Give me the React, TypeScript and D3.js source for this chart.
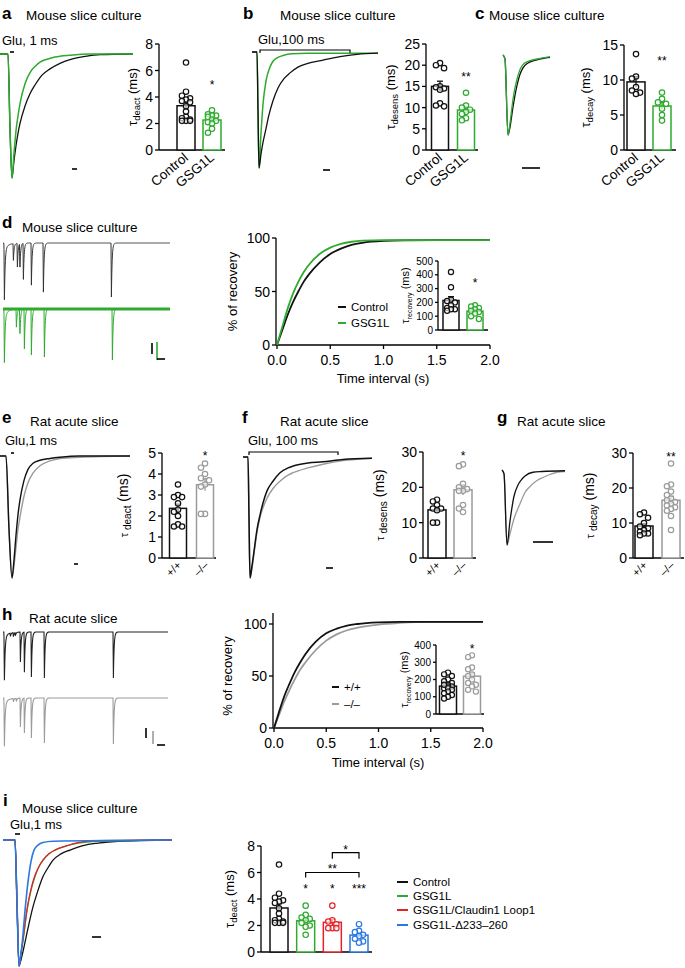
import React from 'react';
import * as d3 from 'd3';

const FONT = '"Liberation Sans", Arial, Helvetica, sans-serif';
const BLACK = '#111111';
const GREEN = '#2eab2e';
const GRAY = '#9b9b9b';
const RED = '#e2242a';
const BLUE = '#2a78e0';

// ---------- bar chart data ----------
const A_CATS = ['Control', 'GSG1L'];
const A_CONTROL = [6.6, 4.4, 4.1, 3.9, 3.8, 3.7, 3.6, 3.3, 2.9, 2.5, 2.4, 2.3, 2.2, 2.2, 2.2];
const A_GSG1L = [3.0, 2.7, 2.6, 2.6, 2.5, 2.3, 2.2, 2.1, 2.0, 1.6, 1.3];
const A_TICKS = [0, 2, 4, 6, 8];

const B_CONTROL = [20.5, 20.0, 19.3, 15.0, 14.8, 14.5, 14.2, 11.0, 10.5, 10.3];
const B_GSG1L = [13.5, 10.5, 10.0, 9.5, 9.0, 8.5, 7.5, 7.0];
const B_TICKS = [0, 5, 10, 15, 20, 25];

const C_CONTROL = [13.7, 10.5, 10.2, 9.0, 8.5, 8.2, 8.0];
const C_GSG1L = [8.2, 7.3, 6.8, 6.6, 5.9, 5.0, 4.2];
const C_TICKS = [0, 5, 10, 15];

const D_CONTROL = [420, 310, 220, 210, 200, 180, 160, 150, 150, 140];
const D_GSG1L = [180, 170, 160, 150, 140, 130, 120, 100, 80];
const D_INSET_TICKS = [0, 100, 200, 300, 400, 500];

const RAT_CATS = ['+/+', '–/–'];
const E_WT = [3.5, 3.0, 2.9, 2.9, 2.6, 2.3, 2.2, 2.0, 1.6, 1.5, 1.5];
const E_KO = [4.5, 4.3, 4.0, 3.8, 3.7, 3.5, 3.4, 2.1, 2.1];
const E_TICKS = [0, 1, 2, 3, 4, 5];

const F_WT = [16.5, 16.0, 15.0, 14.0, 14.0, 13.5, 10.0, 10.0];
const F_KO = [26.5, 26.0, 21.0, 20.0, 19.5, 19.0, 19.0, 15.0, 14.0, 13.0];
const F_TICKS = [0, 10, 20, 30];

const G_WT = [13, 12.5, 11.5, 10, 9, 8.5, 8, 7.5, 7, 7, 6.5];
const G_KO = [27, 21, 20.5, 19, 18, 17, 16.5, 16, 15.5, 15, 14.5, 14, 13.5, 12, 8];
const G_TICKS = [0, 10, 20, 30];

const H_WT = [240, 230, 220, 200, 190, 180, 170, 160, 160, 150, 150, 140, 130, 120, 110, 100, 90, 170];
const H_KO = [340, 330, 270, 260, 230, 220, 200, 180, 170, 160, 140, 130];
const H_INSET_TICKS = [0, 100, 200, 300, 400];

const I_CATS = ['Control', 'GSG1L', 'GSG1L/Claudin1 Loop1', 'GSG1L-Δ233–260'];
const I_CONTROL = [6.6, 4.4, 4.1, 3.9, 3.8, 3.7, 3.3, 2.9, 2.5, 2.4, 2.3, 2.2, 2.2, 2.2];
const I_GSG1L = [3.5, 2.8, 2.6, 2.5, 2.4, 2.2, 2.0, 1.9, 1.3];
const I_LOOP = [3.5, 2.4, 2.3, 2.1, 1.8, 1.8, 1.8];
const I_DELTA = [2.1, 1.6, 1.5, 1.3, 1.2, 1.0, 0.8, 0.7];
const I_TICKS = [0, 2, 4, 6, 8];

// ---------- recovery curves (time s, % recovery) ----------
const REC_T = [0, 0.05, 0.1, 0.15, 0.2, 0.25, 0.3, 0.4, 0.5, 0.6, 0.7, 0.8, 1.0, 1.2, 1.5, 2.0];
const D_REC_CONTROL = [0, 14, 28, 40, 50, 59, 66, 77, 85, 90, 93.5, 95.5, 97.3, 97.8, 98, 98];
const D_REC_GSG1L = [0, 17, 34, 48, 59, 68, 75, 85, 91, 94.5, 96.5, 97.5, 98, 98, 98, 98];
const H_REC_WT = [0, 16, 31, 43, 54, 63, 71, 83, 91, 95.5, 98.5, 100, 101.5, 102, 102, 102];
const H_REC_KO = [0, 13, 26, 37, 47, 56, 63, 75, 84, 90, 94, 96.5, 99.5, 101, 102, 102];
const REC_X_TICKS = [0, 0.5, 1.0, 1.5, 2.0];
const REC_Y_TICKS = [0, 50, 100];

// ---------- current traces (time, normalized inward current) ----------
type P = [number, number];
const TR_A_CONTROL: P[] = [[0, 0], [8, 0], [10, 0.6], [12, 1], [14, 0.86], [16, 0.74], [18, 0.64], [20, 0.56], [25, 0.42], [30, 0.32], [35, 0.25], [42, 0.17], [50, 0.12], [60, 0.075], [70, 0.045], [85, 0.02], [100, 0.005], [133, 0]];
const TR_A_GSG1L: P[] = [[0, 0], [8, 0], [10, 0.6], [12, 1], [14, 0.8], [16, 0.62], [18, 0.5], [20, 0.4], [25, 0.24], [30, 0.15], [35, 0.1], [40, 0.065], [48, 0.04], [55, 0.025], [70, 0.01], [90, 0], [133, 0]];
const TR_B_CONTROL: P[] = [[0, 0], [5, 0], [6, 0.5], [7, 1], [9, 0.88], [11, 0.78], [14, 0.66], [17, 0.54], [21, 0.42], [26, 0.31], [32, 0.23], [38, 0.18], [46, 0.13], [55, 0.1], [71, 0.07], [88, 0.04], [105, 0.02], [126, 0.01]];
const TR_B_GSG1L: P[] = [[0, 0], [5, 0], [6, 0.5], [7, 1], [9, 0.7], [11, 0.45], [14, 0.25], [18, 0.13], [21, 0.08], [25, 0.05], [31, 0.03], [40, 0.015], [55, 0.01], [126, 0.01]];
const TR_C_CONTROL: P[] = [[0, 0], [2, 0.05], [5, 1], [7, 0.9], [10, 0.65], [14, 0.38], [17, 0.24], [20, 0.16], [25, 0.1], [34, 0.06], [47, 0.03]];
const TR_C_GSG1L: P[] = [[0, 0], [2, 0.05], [5, 1], [7, 0.85], [10, 0.55], [14, 0.3], [17, 0.18], [20, 0.12], [25, 0.08], [34, 0.05], [47, 0.02]];
const TR_E_WT: P[] = [[0, 0], [6, 0], [9, 0.6], [12, 1], [14, 0.85], [16, 0.65], [18, 0.48], [20, 0.36], [24, 0.2], [28, 0.11], [33, 0.06], [40, 0.035], [50, 0.02], [60, 0.01], [80, 0], [130, 0]];
const TR_E_KO: P[] = [[0, 0], [6, 0], [9, 0.6], [12, 1], [14, 0.9], [16, 0.75], [18, 0.6], [20, 0.5], [24, 0.33], [28, 0.22], [33, 0.14], [40, 0.08], [50, 0.04], [60, 0.02], [80, 0.01], [130, 0]];
const TR_F_WT: P[] = [[0, 0], [5, 0], [6, 0.5], [7, 1], [9, 0.9], [11, 0.78], [14, 0.6], [17, 0.48], [20, 0.38], [24, 0.28], [30, 0.2], [37, 0.13], [45, 0.09], [50, 0.075], [65, 0.05], [80, 0.04], [100, 0.02], [129, 0.01]];
const TR_F_KO: P[] = [[0, 0], [5, 0], [6, 0.5], [7, 1], [9, 0.92], [11, 0.8], [14, 0.62], [17, 0.5], [20, 0.42], [24, 0.34], [30, 0.26], [37, 0.2], [45, 0.15], [50, 0.13], [65, 0.09], [80, 0.06], [100, 0.03], [129, 0.01]];
const TR_G_WT: P[] = [[0, 0], [2, 0.05], [5, 1], [8, 0.68], [12, 0.35], [16, 0.2], [20, 0.12], [23, 0.08], [31, 0.03], [40, 0.02], [63, 0.01]];
const TR_G_KO: P[] = [[0, 0], [2, 0.05], [5, 1], [8, 0.85], [12, 0.65], [18, 0.45], [23, 0.3], [28, 0.22], [35, 0.14], [41, 0.1], [48, 0.06], [55, 0.03], [63, 0.02]];
const TR_I_CONTROL: P[] = [[0, 0], [12, 0], [14, 0.5], [16, 1], [18, 0.95], [21, 0.85], [25, 0.7], [29, 0.56], [35, 0.4], [40, 0.29], [45, 0.22], [50, 0.16], [58, 0.11], [67, 0.08], [80, 0.045], [95, 0.025], [115, 0.01], [169, 0]];
const TR_I_GSG1L: P[] = [[0, 0], [12, 0], [14, 0.5], [16, 1], [18, 0.9], [20, 0.8], [24, 0.56], [28, 0.4], [32, 0.29], [36, 0.21], [40, 0.16], [46, 0.11], [52, 0.08], [62, 0.05], [75, 0.025], [95, 0.01], [169, 0]];
const TR_I_LOOP: P[] = [[0, 0], [12, 0], [14, 0.5], [16, 1], [18, 0.9], [20, 0.79], [24, 0.55], [28, 0.39], [32, 0.28], [36, 0.21], [40, 0.16], [46, 0.11], [52, 0.08], [62, 0.05], [75, 0.02], [95, 0.005], [169, 0]];
const TR_I_DELTA: P[] = [[0, 0], [12, 0], [14, 0.5], [16, 1], [18, 0.9], [20, 0.75], [22, 0.56], [24, 0.4], [26, 0.27], [28, 0.17], [31, 0.08], [35, 0.04], [40, 0.02], [50, 0.01], [169, 0]];

// ---------- paired-pulse event trains (time, relative amplitude) ----------
const D_CTRL_EVENTS = [1, 10, 14, 16.5, 20, 28, 40, 108];
const D_CTRL_AMPS = [1, 0.31, 0.44, 0.5, 0.67, 0.78, 0.91, 1];
const D_GSG_EVENTS = [1, 13, 16.5, 21, 28, 41, 109];
const D_GSG_AMPS = [1, 0.35, 0.55, 0.78, 0.9, 0.94, 1];
const H_WT_EVENTS = [1, 7, 10, 12, 17, 21, 28, 41, 110];
const H_WT_AMPS = [1, 0.07, 0.09, 0.07, 0.65, 0.87, 0.98, 1, 1];
const H_KO_EVENTS = [1, 10, 13, 17, 21, 28, 41, 110];
const H_KO_AMPS = [1, 0.07, 0.07, 0.63, 0.76, 0.87, 0.98, 1];

// ---------------------------------------------------------------
type Group = { name: string; values: number[]; color: string };

function beeswarm(values: number[], y: (v: number) => number, r: number, maxOff: number) {
  const order = values.map((v, i) => ({ v, i })).sort((a, b) => b.v - a.v);
  const placed: { x: number; y: number }[] = [];
  const out: number[] = new Array(values.length).fill(0);
  const step = r * 1.5;
  const cands: number[] = [0];
  for (let k = 1; k <= 8; k++) cands.push(-k * step, k * step);
  const ok = cands.filter((c) => Math.abs(c) <= maxOff);
  for (const o of order) {
    const py = y(o.v);
    let best = 0;
    let bestD = -1;
    let found = false;
    for (const c of ok) {
      const d = placed.length ? Math.min(...placed.map((p) => Math.hypot(p.x - c, p.y - py))) : 99;
      if (d >= 2 * r * 0.98) {
        best = c;
        found = true;
        break;
      }
      if (d > bestD) {
        bestD = d;
        best = c;
      }
    }
    if (!found && bestD < 0) best = 0;
    placed.push({ x: best, y: py });
    out[o.i] = best;
  }
  return out;
}

type Star = { g: number; text: string; value: number };
type Bracket = { from: number; to: number; value: number; text: string; drop: number };
type BarCfg = {
  axisX: number; y0: number; y1: number; max: number; ticks: number[];
  c0: number; c1: number; barW: number; endX: number; tickFont: number; tickLen?: number;
  titleX: number; titleSub: string; titleFont: number; subFont: number; unitFont?: number; spaced?: boolean;
  labelFont?: number; labelDx?: number; labelDy?: number; labelRot?: number; r: number; starFont?: number;
  stars?: Star[]; brackets?: Bracket[]; axisTop?: number;
};

function BarChart({ cfg, groups }: { cfg: BarCfg; groups: Group[] }) {
  const y = d3.scaleLinear().domain([0, cfg.max]).range([cfg.y0, cfg.y1]);
  const x = d3.scalePoint<string>().domain(groups.map((g) => g.name)).range([cfg.c0, cfg.c1]);
  const tl = cfg.tickLen ?? 4;
  const midY = (cfg.y0 + cfg.y1) / 2;
  const sf = cfg.starFont ?? 12;
  return (
    <g>
      <line x1={cfg.axisX} x2={cfg.axisX} y1={cfg.y0} y2={cfg.axisTop ?? cfg.y1} stroke="#000" strokeWidth={1.3} />
      <line x1={cfg.axisX} x2={cfg.endX} y1={cfg.y0} y2={cfg.y0} stroke="#000" strokeWidth={1.3} />
      {cfg.ticks.map((t) => (
        <g key={t}>
          <line x1={cfg.axisX - tl} x2={cfg.axisX} y1={y(t)} y2={y(t)} stroke="#000" strokeWidth={1.3} />
          <text x={cfg.axisX - tl - 2} y={y(t)} dy="0.36em" textAnchor="end" fontSize={cfg.tickFont}>{t}</text>
        </g>
      ))}
      <text transform={`translate(${cfg.titleX},${midY}) rotate(-90)`} textAnchor="middle" fontSize={cfg.titleFont}>
        τ<tspan fontSize={cfg.subFont} dy={3} dx={cfg.spaced ? 3 : 0}>{cfg.titleSub}</tspan>
        <tspan dy={-3} fontSize={cfg.unitFont ?? cfg.titleFont}>{' (ms)'}</tspan>
      </text>
      {groups.map((g) => {
        const cx = x(g.name) as number;
        const mean = d3.mean(g.values) as number;
        const sem = (d3.deviation(g.values) as number) / Math.sqrt(g.values.length);
        const offs = beeswarm(g.values, y, cfg.r, cfg.barW / 2 - cfg.r + 1);
        return (
          <g key={g.name}>
            <rect x={cx - cfg.barW / 2} y={y(mean)} width={cfg.barW} height={cfg.y0 - y(mean)} fill="#fff" stroke={g.color} strokeWidth={1.5} />
            <line x1={cx} x2={cx} y1={y(mean - sem)} y2={y(mean + sem)} stroke={g.color} strokeWidth={1.3} />
            <line x1={cx - 3} x2={cx + 3} y1={y(mean + sem)} y2={y(mean + sem)} stroke={g.color} strokeWidth={1.3} />
            {g.values.map((v, i) => (
              <circle key={i} cx={cx + offs[i]} cy={y(v)} r={cfg.r} fill="#fff" fillOpacity={0.6} stroke={g.color} strokeWidth={1.2} />
            ))}
            {cfg.labelFont ? (
              <text transform={`translate(${cx + (cfg.labelDx ?? 4)},${cfg.y0 + (cfg.labelDy ?? 9)}) rotate(${cfg.labelRot ?? -45})`} textAnchor="end" fontSize={cfg.labelFont}>{g.name}</text>
            ) : null}
          </g>
        );
      })}
      {(cfg.stars ?? []).map((s, i) => (
        <text key={'s' + i} x={x(groups[s.g].name) as number} y={y(s.value) + sf * 0.58} textAnchor="middle" fontSize={sf}>{s.text}</text>
      ))}
      {(cfg.brackets ?? []).map((b, i) => {
        const xa = x(groups[b.from].name) as number;
        const xb = x(groups[b.to].name) as number;
        const yy = y(b.value);
        return (
          <g key={'b' + i}>
            <path d={`M${xa},${yy + b.drop}V${yy}H${xb}V${yy + b.drop}`} fill="none" stroke="#000" strokeWidth={1.2} />
            <text x={(xa + xb) / 2} y={yy - 6 + sf * 0.58} textAnchor="middle" fontSize={sf}>{b.text}</text>
          </g>
        );
      })}
    </g>
  );
}

type TraceSeries = { data: P[]; color: string; width?: number };
function Traces({ x0, x1, tMax, base, peak, series }: { x0: number; x1: number; tMax: number; base: number; peak: number; series: TraceSeries[] }) {
  const xs = d3.scaleLinear().domain([0, tMax]).range([x0, x1]);
  const ys = d3.scaleLinear().domain([0, 1]).range([base, peak]);
  const line = d3.line<P>().x((d) => xs(d[0])).y((d) => ys(d[1])).curve(d3.curveMonotoneX);
  return (
    <g>
      {series.map((s, i) => (
        <path key={i} d={line(s.data) ?? ''} fill="none" stroke={s.color} strokeWidth={s.width ?? 1.3} strokeLinejoin="round" />
      ))}
    </g>
  );
}

// event train rendered as a sum of brief synaptic-like deflections
function trainPoints(events: number[], amps: number[], tEnd: number): P[] {
  const pts: P[] = [];
  for (let t = 0; t <= tEnd; t += 0.2) {
    let v = 0;
    events.forEach((te, i) => {
      const d = t - te;
      if (d < 0) return;
      const rise = d < 0.4 ? d / 0.4 : 1;
      const first = i === 0 ? 0.12 * Math.exp(-d / 4) : 0;
      v += amps[i] * (rise * Math.exp(-Math.max(0, d - 0.4) / 0.7) + first);
    });
    pts.push([t, Math.min(v, 1.05)]);
  }
  return pts;
}

function Train({ x0, x1, tEnd, base, depth, events, amps, color, width }: { x0: number; x1: number; tEnd: number; base: number; depth: number; events: number[]; amps: number[]; color: string; width?: number }) {
  const xs = d3.scaleLinear().domain([0, tEnd]).range([x0, x1]);
  const ys = d3.scaleLinear().domain([0, 1]).range([base, base + depth]);
  const line = d3.line<P>().x((d) => xs(d[0])).y((d) => ys(d[1]));
  return <path d={line(trainPoints(events, amps, tEnd)) ?? ''} fill="none" stroke={color} strokeWidth={width ?? 1} />;
}

type RecCfg = { ax: number; x0: number; x1: number; y0: number; y1: number; axisTop: number; labelY: number; titleY: number; titleX: number; ylabX: number };
function Recovery({ cfg, series }: { cfg: RecCfg; series: { values: number[]; color: string }[] }) {
  const x = d3.scaleLinear().domain([0, 2]).range([cfg.x0, cfg.x1]);
  const y = d3.scaleLinear().domain([0, 100]).range([cfg.y0, cfg.y1]);
  const line = d3.line<number>().x((_, i) => x(REC_T[i])).y((d) => y(d)).curve(d3.curveMonotoneX);
  return (
    <g>
      <line x1={cfg.ax} x2={cfg.ax} y1={cfg.y0} y2={cfg.axisTop} stroke="#000" strokeWidth={1.3} />
      <line x1={cfg.ax} x2={cfg.x1} y1={cfg.y0} y2={cfg.y0} stroke="#000" strokeWidth={1.3} />
      {REC_Y_TICKS.map((t) => (
        <g key={t}>
          <line x1={cfg.ax - 4} x2={cfg.ax} y1={y(t)} y2={y(t)} stroke="#000" strokeWidth={1.3} />
          <text x={cfg.ax - 6} y={y(t)} dy="0.36em" textAnchor="end" fontSize={14}>{t}</text>
        </g>
      ))}
      {REC_X_TICKS.map((t) => (
        <g key={t}>
          <line x1={x(t)} x2={x(t)} y1={cfg.y0} y2={cfg.y0 + 4} stroke="#000" strokeWidth={1.3} />
          <text x={x(t)} y={cfg.labelY} textAnchor="middle" fontSize={14}>{d3.format('.1f')(t)}</text>
        </g>
      ))}
      <text x={cfg.titleX} y={cfg.titleY} textAnchor="middle" fontSize={13}>Time interval (s)</text>
      <text transform={`translate(${cfg.ylabX},${(cfg.y0 + cfg.y1) / 2}) rotate(-90)`} textAnchor="middle" fontSize={13}>% of recovery</text>
      {series.map((s, i) => (
        <path key={i} d={line(s.values) ?? ''} fill="none" stroke={s.color} strokeWidth={1.8} />
      ))}
    </g>
  );
}

function Legend({ x, ys, items, font, len }: { x: number; ys: number[]; items: { name: string; color: string }[]; font: number; len: number }) {
  return (
    <g>
      {items.map((it, i) => (
        <g key={it.name}>
          <line x1={x} x2={x + len} y1={ys[i]} y2={ys[i]} stroke={it.color} strokeWidth={2} />
          <text x={x + len + 5} y={ys[i]} dy="0.36em" fontSize={font}>{it.name}</text>
        </g>
      ))}
    </g>
  );
}

const Bar = ({ x1, x2, y1, y2, c }: { x1: number; x2: number; y1: number; y2: number; c?: string }) => (
  <line x1={x1} x2={x2} y1={y1} y2={y2} stroke={c ?? '#000'} strokeWidth={1.6} />
);

export default function App() {
  const aGroups: Group[] = [
    { name: A_CATS[0], values: A_CONTROL, color: BLACK },
    { name: A_CATS[1], values: A_GSG1L, color: GREEN },
  ];
  const bGroups: Group[] = [
    { name: A_CATS[0], values: B_CONTROL, color: BLACK },
    { name: A_CATS[1], values: B_GSG1L, color: GREEN },
  ];
  const cGroups: Group[] = [
    { name: A_CATS[0], values: C_CONTROL, color: BLACK },
    { name: A_CATS[1], values: C_GSG1L, color: GREEN },
  ];
  const dGroups: Group[] = [
    { name: A_CATS[0], values: D_CONTROL, color: BLACK },
    { name: A_CATS[1], values: D_GSG1L, color: GREEN },
  ];
  const eGroups: Group[] = [
    { name: RAT_CATS[0], values: E_WT, color: BLACK },
    { name: RAT_CATS[1], values: E_KO, color: GRAY },
  ];
  const fGroups: Group[] = [
    { name: RAT_CATS[0], values: F_WT, color: BLACK },
    { name: RAT_CATS[1], values: F_KO, color: GRAY },
  ];
  const gGroups: Group[] = [
    { name: RAT_CATS[0], values: G_WT, color: BLACK },
    { name: RAT_CATS[1], values: G_KO, color: GRAY },
  ];
  const hGroups: Group[] = [
    { name: RAT_CATS[0], values: H_WT, color: BLACK },
    { name: RAT_CATS[1], values: H_KO, color: GRAY },
  ];
  const iGroups: Group[] = [
    { name: I_CATS[0], values: I_CONTROL, color: BLACK },
    { name: I_CATS[1], values: I_GSG1L, color: GREEN },
    { name: I_CATS[2], values: I_LOOP, color: RED },
    { name: I_CATS[3], values: I_DELTA, color: BLUE },
  ];

  const mainBar = { tickFont: 14, titleFont: 13, subFont: 9.5, r: 2.7, labelFont: 13.5, labelDx: 3, labelDy: 9, labelRot: -40 };
  const ratBar = { tickFont: 14, titleFont: 11, subFont: 10, unitFont: 14, spaced: true, r: 2.7, labelFont: 11, labelDx: 4, labelDy: 8 };

  return (
    <svg width={685} height={968} style={{ position: 'absolute', left: 0, top: 0 }} fontFamily={FONT}>
      <rect width={685} height={968} fill="#fff" />

      {/* ---------- a ---------- */}
      <text x={2} y={19} fontSize={17} fontWeight="bold">a</text>
      <text x={26} y={20} fontSize={13.5}>Mouse slice culture</text>
      <text x={2} y={45} fontSize={13}>Glu, 1 ms</text>
      <Bar x1={10} x2={14} y1={52} y2={52} />
      <Traces x0={0} x1={133} tMax={133} base={54} peak={178} series={[{ data: TR_A_CONTROL, color: BLACK }, { data: TR_A_GSG1L, color: GREEN, width: 1.5 }]} />
      <Bar x1={72} x2={77} y1={169} y2={169} />
      <BarChart groups={aGroups} cfg={{ ...mainBar, axisX: 159, y0: 150, y1: 44, max: 8, ticks: A_TICKS, c0: 186, c1: 212, barW: 18, endX: 225, titleX: 137, titleSub: 'deact', stars: [{ g: 1, text: '*', value: 5.1 }] }} />

      {/* ---------- b ---------- */}
      <text x={243} y={19} fontSize={17} fontWeight="bold">b</text>
      <text x={280} y={20} fontSize={13.5}>Mouse slice culture</text>
      <text x={258} y={44} fontSize={13}>Glu,100 ms</text>
      <path d="M260,53V50H350V53" fill="none" stroke="#000" strokeWidth={1.2} />
      <Traces x0={252} x1={378} tMax={126} base={52} peak={168} series={[{ data: TR_B_GSG1L, color: GREEN, width: 1.5 }, { data: TR_B_CONTROL, color: BLACK }]} />
      <Bar x1={323} x2={330} y1={170} y2={170} />
      <BarChart groups={bGroups} cfg={{ ...mainBar, axisX: 426, y0: 150, y1: 44, max: 25, ticks: B_TICKS, c0: 440, c1: 466, barW: 17, endX: 478, titleX: 395, titleSub: 'desens', stars: [{ g: 1, text: '**', value: 17.8 }] }} />

      {/* ---------- c ---------- */}
      <text x={475} y={19} fontSize={17} fontWeight="bold">c</text>
      <text x={489} y={20} fontSize={13.5}>Mouse slice culture</text>
      <Traces x0={503} x1={550} tMax={47} base={55} peak={135} series={[{ data: TR_C_CONTROL, color: BLACK }, { data: TR_C_GSG1L, color: GREEN }]} />
      <Bar x1={522} x2={540} y1={168} y2={168} />
      <BarChart groups={cGroups} cfg={{ ...mainBar, axisX: 624, y0: 150, y1: 45, max: 15, ticks: C_TICKS, c0: 636, c1: 662, barW: 18, endX: 676, titleX: 590, titleSub: 'decay', stars: [{ g: 1, text: '**', value: 13.1 }] }} />

      {/* ---------- d ---------- */}
      <text x={2} y={228} fontSize={17} fontWeight="bold">d</text>
      <text x={22} y={232} fontSize={13.5}>Mouse slice culture</text>
      <Train x0={3} x1={170} tEnd={167} base={243} depth={54} events={D_CTRL_EVENTS} amps={D_CTRL_AMPS} color={'#333'} width={1} />
      <Train x0={3} x1={170} tEnd={167} base={309} depth={51} events={D_GSG_EVENTS} amps={D_GSG_AMPS} color={GREEN} width={1} />
      <line x1={3} x2={170} y1={309} y2={309} stroke={GREEN} strokeWidth={3} />
      <Bar x1={152} x2={152} y1={343} y2={354} />
      <Bar x1={157} x2={157} y1={342} y2={360} c={GREEN} />
      <Bar x1={157} x2={165} y1={359} y2={359} />
      <Recovery cfg={{ ax: 276, x0: 277, x1: 490, y0: 345, y1: 238, axisTop: 238, labelY: 365, titleY: 383, titleX: 383, ylabX: 237 }} series={[{ values: D_REC_CONTROL, color: BLACK }, { values: D_REC_GSG1L, color: GREEN }]} />
      <Legend x={338} ys={[307, 323]} items={[{ name: 'Control', color: BLACK }, { name: 'GSG1L', color: GREEN }]} font={11.5} len={8} />
      <BarChart groups={dGroups} cfg={{ axisX: 438, y0: 330, y1: 261, max: 500, ticks: D_INSET_TICKS, c0: 451, c1: 475, barW: 16, endX: 488, tickFont: 10, tickLen: 3, titleX: 409, titleSub: 'recovery', titleFont: 11, subFont: 7, r: 2.6, starFont: 12, stars: [{ g: 1, text: '*', value: 365 }] }} />

      {/* ---------- e ---------- */}
      <text x={2} y={423} fontSize={17} fontWeight="bold">e</text>
      <text x={30} y={426} fontSize={13.5}>Rat acute slice</text>
      <text x={5} y={445} fontSize={13}>Glu,1 ms</text>
      <Bar x1={11} x2={14} y1={453} y2={453} />
      <Traces x0={0} x1={130} tMax={130} base={456} peak={578} series={[{ data: TR_E_KO, color: GRAY, width: 1.4 }, { data: TR_E_WT, color: BLACK, width: 1.4 }]} />
      <Bar x1={74} x2={78} y1={564} y2={564} />
      <BarChart groups={eGroups} cfg={{ ...ratBar, axisX: 162, y0: 558, y1: 453, max: 5, ticks: E_TICKS, c0: 178, c1: 205, barW: 17, endX: 216, titleX: 128, titleSub: 'deact', stars: [{ g: 1, text: '*', value: 5.0 }] }} />

      {/* ---------- f ---------- */}
      <text x={242} y={423} fontSize={17} fontWeight="bold">f</text>
      <text x={280} y={426} fontSize={13.5}>Rat acute slice</text>
      <text x={248} y={445} fontSize={13}>Glu, 100 ms</text>
      <path d="M249,455V452H338V455" fill="none" stroke="#000" strokeWidth={1.2} />
      <Traces x0={243} x1={372} tMax={129} base={457} peak={578} series={[{ data: TR_F_KO, color: GRAY, width: 1.4 }, { data: TR_F_WT, color: BLACK, width: 1.5 }]} />
      <Bar x1={326} x2={333} y1={568} y2={568} />
      <BarChart groups={fGroups} cfg={{ ...ratBar, axisX: 423, y0: 558, y1: 452, max: 30, ticks: F_TICKS, c0: 437, c1: 463, barW: 18, endX: 476, titleX: 384, titleSub: 'desens', stars: [{ g: 1, text: '*', value: 29.6 }] }} />

      {/* ---------- g ---------- */}
      <text x={497} y={423} fontSize={17} fontWeight="bold">g</text>
      <text x={517} y={426} fontSize={13.5}>Rat acute slice</text>
      <Traces x0={502} x1={565} tMax={63} base={470} peak={545} series={[{ data: TR_G_KO, color: GRAY }, { data: TR_G_WT, color: BLACK }]} />
      <Bar x1={533} x2={553} y1={542} y2={542} />
      <BarChart groups={gGroups} cfg={{ ...ratBar, axisX: 633, y0: 558, y1: 453, max: 30, ticks: G_TICKS, c0: 644, c1: 671, barW: 18, endX: 684, titleX: 594, titleSub: 'decay', stars: [{ g: 1, text: '**', value: 29.8 }] }} />

      {/* ---------- h ---------- */}
      <text x={2} y={620} fontSize={17} fontWeight="bold">h</text>
      <text x={29} y={623} fontSize={13.5}>Rat acute slice</text>
      <Train x0={3} x1={168} tEnd={165} base={632} depth={46} events={H_WT_EVENTS} amps={H_WT_AMPS} color={'#222'} width={1.1} />
      <Train x0={3} x1={168} tEnd={165} base={698} depth={46} events={H_KO_EVENTS} amps={H_KO_AMPS} color={GRAY} width={1.1} />
      <Bar x1={146} x2={146} y1={728} y2={738} />
      <Bar x1={153} x2={153} y1={731} y2={744} c={GRAY} />
      <Bar x1={157} x2={165} y1={745} y2={745} />
      <Recovery cfg={{ ax: 273, x0: 274, x1: 483, y0: 728, y1: 624, axisTop: 613, labelY: 748, titleY: 767, titleX: 378, ylabX: 232 }} series={[{ values: H_REC_KO, color: GRAY }, { values: H_REC_WT, color: BLACK }]} />
      <Legend x={332} ys={[687, 704]} items={[{ name: '+/+', color: BLACK }, { name: '–/–', color: GRAY }]} font={11.5} len={7} />
      <BarChart groups={hGroups} cfg={{ axisX: 436, y0: 714, y1: 645, max: 400, ticks: H_INSET_TICKS, c0: 448, c1: 472, barW: 17, endX: 484, tickFont: 10, tickLen: 3, titleX: 408, titleSub: 'recovery', titleFont: 11, subFont: 7, r: 2.6, starFont: 12, stars: [{ g: 1, text: '*', value: 392 }] }} />

      {/* ---------- i ---------- */}
      <text x={3} y={806} fontSize={17} fontWeight="bold">i</text>
      <text x={22} y={813} fontSize={13.5}>Mouse slice culture</text>
      <text x={10} y={829} fontSize={13}>Glu,1 ms</text>
      <Bar x1={15} x2={20} y1={834} y2={834} />
      <Traces x0={3} x1={172} tMax={169} base={840} peak={966} series={[{ data: TR_I_CONTROL, color: BLACK }, { data: TR_I_GSG1L, color: GREEN }, { data: TR_I_LOOP, color: RED }, { data: TR_I_DELTA, color: BLUE, width: 1.6 }]} />
      <Bar x1={92} x2={101} y1={937} y2={937} />
      <BarChart groups={iGroups} cfg={{ ...mainBar, labelFont: 0, axisX: 261, y0: 952, y1: 846, max: 8, ticks: I_TICKS, c0: 279, c1: 359, barW: 18, endX: 372, titleX: 234, titleSub: 'deact', stars: [{ g: 1, text: '*', value: 5.0 }, { g: 2, text: '*', value: 5.0 }, { g: 3, text: '***', value: 5.0 }], brackets: [{ from: 1, to: 3, value: 6.0, text: '**', drop: 5 }, { from: 2, to: 3, value: 7.5, text: '*', drop: 6 }] }} />
      <Legend x={397} ys={[882, 896, 910, 925]} items={iGroups.map((g) => ({ name: g.name, color: g.color }))} font={11.5} len={11} />
    </svg>
  );
}
